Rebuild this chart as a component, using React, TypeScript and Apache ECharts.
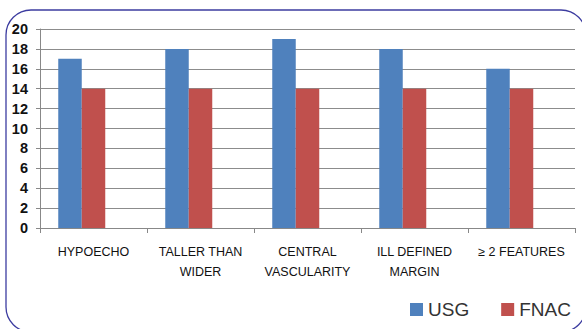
import React, { useEffect, useRef } from "react";
import * as echarts from "echarts";

const categories = ["HYPOECHO", "TALLER THAN\nWIDER", "CENTRAL\nVASCULARITY", "ILL DEFINED\nMARGIN", "≥ 2 FEATURES"];
const usgValues = [17, 18, 19, 18, 16];
const fnacValues = [14, 14, 14, 14, 14];
const emptyValues = [null, null, null, null, null];
const seriesNames = ["USG", "FNAC"];

export default function App() {
  const ref = useRef<HTMLDivElement>(null);
  useEffect(() => {
    document.body.style.margin = "0";
    const chart = echarts.init(ref.current!, null, { renderer: "svg" });
    const font = "'Liberation Sans', 'Open Sans', sans-serif";
    chart.setOption({
      animation: false,
      backgroundColor: "#ffffff",
      graphic: [
        {
          type: "rect",
          shape: { x: 6, y: 10, width: 580, height: 322, r: 25 },
          style: { fill: "none", stroke: "#3c3ca0", lineWidth: 1.3 },
          z: 10,
        },
      ],
      grid: { left: 40, right: 7, top: 29, bottom: 101, containLabel: false },
      legend: {
        left: 410,
        top: 300,
        padding: 0,
        itemWidth: 13,
        itemHeight: 13,
        itemGap: 32,
        icon: "rect",
        textStyle: { fontSize: 19, color: "#333", fontFamily: font },
        data: seriesNames,
      },
      xAxis: {
        type: "category",
        data: categories,
        axisLine: { lineStyle: { color: "#888", width: 1 } },
        axisTick: { show: true, length: 5, lineStyle: { color: "#888" } },
        axisLabel: {
          interval: 0,
          color: "#111",
          fontSize: 12.5,
          fontFamily: font,
          lineHeight: 20,
          margin: 14,
        },
      },
      yAxis: {
        type: "value",
        min: 0,
        max: 20,
        interval: 2,
        axisLine: { show: true, lineStyle: { color: "#888" } },
        axisTick: { show: true, length: 4, lineStyle: { color: "#888" } },
        splitLine: { lineStyle: { color: "#8c8c8c", width: 1 } },
        axisLabel: {
          color: "#111",
          fontSize: 14.5,
          fontWeight: "bold",
          fontFamily: font,
          margin: 12,
        },
      },
      series: [
        {
          name: seriesNames[0],
          type: "bar",
          data: usgValues,
          barWidth: 23.5,
          barGap: "0%",
          itemStyle: { color: "#4f81bd" },
        },
        {
          name: seriesNames[1],
          type: "bar",
          data: fnacValues,
          barWidth: 23.5,
          barGap: "0%",
          itemStyle: { color: "#c0504d" },
        },
        {
          name: "spacer",
          type: "bar",
          data: emptyValues,
          barWidth: 23.5,
          barGap: "0%",
          silent: true,
        },
      ],
    });
    return () => chart.dispose();
  }, []);
  return <div ref={ref} style={{ position: "fixed", left: 0, top: 0, width: 582, height: 329 }} />;
}
